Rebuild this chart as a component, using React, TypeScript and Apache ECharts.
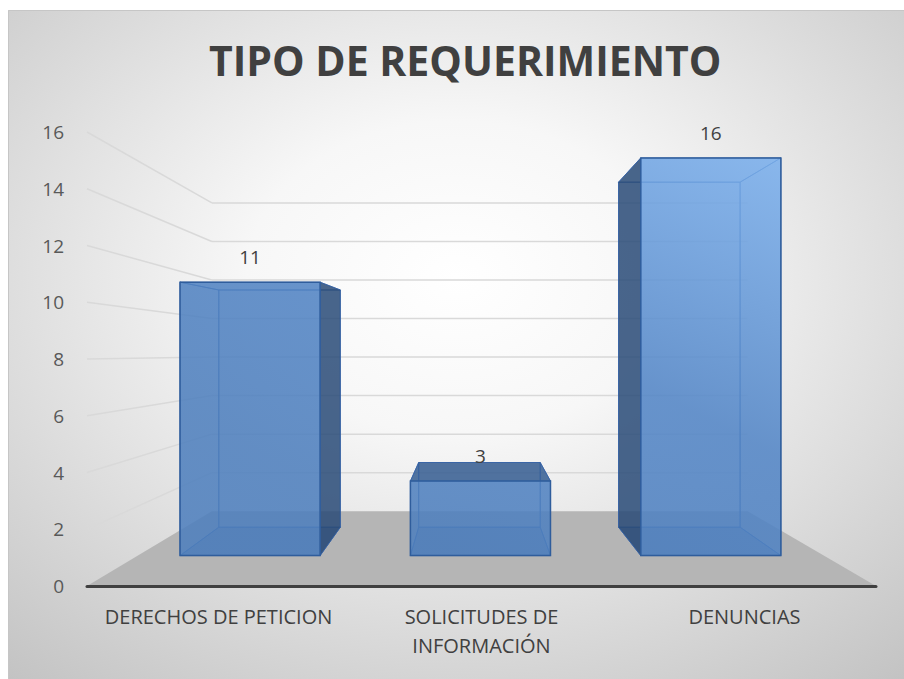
import React, { useEffect, useRef } from "react";
import * as echarts from "echarts";

// ---- data ----
const TITLE = "TIPO DE REQUERIMIENTO";
const categories = ["DERECHOS DE PETICION", "SOLICITUDES DE INFORMACIÓN", "DENUNCIAS"];
const values = [11, 3, 16];
const yTicks = [0, 2, 4, 6, 8, 10, 12, 14, 16];

// ---- 3D look (perspective toward a vanishing point) ----
const FONT = '"Open Sans", "DejaVu Sans", sans-serif';
const WALL = { vx: 468, vy: 343, s: 0.679 };
const BAR = { vx: 465, vy: 331, sFront: 0.876, sBack: 0.76, halfWidth: 0.304 };

function proj(x: number, y: number, vx: number, vy: number, s: number): number[] {
  return [vx + (x - vx) * s, vy + (y - vy) * s];
}

function wrapLabel(s: string): string {
  if (s.length <= 22) return s;
  const w = s.split(" ");
  return w.slice(0, -1).join(" ") + "\n" + w[w.length - 1];
}

export default function App() {
  const ref = useRef<HTMLDivElement>(null);

  useEffect(() => {
    if (!ref.current) return;
    const chart = echarts.init(ref.current, undefined, { renderer: "svg" });

    const frontFill = new echarts.graphic.LinearGradient(
      560, 600, 800, 140,
      [
        { offset: 0, color: "rgba(78,127,189,0.86)" },
        { offset: 0.45, color: "rgba(82,133,198,0.86)" },
        { offset: 1, color: "rgba(126,179,240,0.86)" },
      ],
      true
    );

    const wallSeries = {
      type: "custom",
      z: 1,
      silent: true,
      data: yTicks.map((v) => [0, v]),
      encode: { x: 0, y: 1 },
      renderItem: (params: any, api: any) => {
        const v = api.value(1);
        const cs = params.coordSys;
        const y = api.coord([0, v])[1];
        const fl = [cs.x, y];
        const fr = [cs.x + cs.width, y];
        const bl = proj(fl[0], fl[1], WALL.vx, WALL.vy, WALL.s);
        const br = proj(fr[0], fr[1], WALL.vx, WALL.vy, WALL.s);
        if (v === 0) {
          return {
            type: "polygon",
            shape: { points: [fl, fr, br, bl] },
            style: { fill: "#b5b5b5" },
          };
        }
        return {
          type: "group",
          children: [
            {
              type: "line",
              shape: { x1: fl[0], y1: fl[1], x2: bl[0], y2: bl[1] },
              style: { stroke: "#d9d9d9", lineWidth: 1.5 },
            },
            {
              type: "line",
              shape: { x1: bl[0], y1: bl[1], x2: br[0], y2: br[1] },
              style: { stroke: "#d9d9d9", lineWidth: 1.5 },
            },
          ],
        };
      },
    };

    const barSeries = {
      type: "custom",
      z: 3,
      data: categories.map((_, i) => [i, values[i]]),
      encode: { x: 0, y: 1 },
      renderItem: (params: any, api: any) => {
        const idx = api.value(0);
        const v = api.value(1);
        const top = api.coord([idx, v]);
        const base = api.coord([idx, 0]);
        const band = api.size([1, 0])[0];
        const hw = band * BAR.halfWidth;
        const xl = top[0] - hw;
        const xr = top[0] + hw;
        const yt = top[1];
        const yb = base[1];
        const P = (x: number, y: number, s: number) => proj(x, y, BAR.vx, BAR.vy, s);
        const sF = BAR.sFront;
        const sB = BAR.sBack;
        const F = { lt: P(xl, yt, sF), rt: P(xr, yt, sF), rb: P(xr, yb, sF), lb: P(xl, yb, sF) };
        const B = { lt: P(xl, yt, sB), rt: P(xr, yt, sB), rb: P(xr, yb, sB), lb: P(xl, yb, sB) };
        const edge = "rgba(52,98,165,0.75)";
        const dark = "rgba(40,74,118,0.84)";
        const topVisible = B.lt[1] < F.lt[1];
        const leftVisible = B.lt[0] < F.lt[0];
        const rightVisible = B.rt[0] > F.rt[0];
        const children: any[] = [
          {
            type: "polygon",
            shape: { points: [B.lt, B.rt, B.rb, B.lb] },
            style: { fill: "rgba(68,114,196,0.08)", stroke: edge, lineWidth: 1 },
          },
          {
            type: "polygon",
            shape: { points: [F.lb, F.rb, B.rb, B.lb] },
            style: { fill: "rgba(40,80,140,0.35)", stroke: edge, lineWidth: 1 },
          },
          {
            type: "polygon",
            shape: { points: [F.lt, F.rt, B.rt, B.lt] },
            style: {
              fill: topVisible ? "rgba(56,94,146,0.86)" : "rgba(68,114,196,0.05)",
              stroke: edge,
              lineWidth: 1,
            },
          },
          {
            type: "polygon",
            shape: { points: [F.lt, B.lt, B.lb, F.lb] },
            style: { fill: leftVisible ? dark : "rgba(68,114,196,0.05)", stroke: edge, lineWidth: 1 },
          },
          {
            type: "polygon",
            shape: { points: [F.rt, B.rt, B.rb, F.rb] },
            style: { fill: rightVisible ? dark : "rgba(68,114,196,0.05)", stroke: edge, lineWidth: 1 },
          },
          {
            type: "polygon",
            shape: { points: [F.lt, F.rt, F.rb, F.lb] },
            style: { fill: frontFill, stroke: "#2f5d9c", lineWidth: 1.5 },
          },
          {
            type: "text",
            z2: 20,
            style: {
              text: String(v),
              x: (F.lt[0] + F.rt[0]) / 2,
              y: F.lt[1] - 25,
              align: "center",
              verticalAlign: "middle",
              fontSize: 19,
              fontFamily: FONT,
              fill: "#404040",
            },
          },
        ];
        return { type: "group", children };
      },
    };

    const option: any = {
      animation: false,
      backgroundColor: new echarts.graphic.RadialGradient(0.5, 0.4, 0.78, [
        { offset: 0, color: "#ffffff" },
        { offset: 0.3, color: "#f7f7f7" },
        { offset: 1, color: "#c3c3c3" },
      ]),
      title: {
        text: TITLE,
        left: 196,
        top: 24,
        textStyle: { fontSize: 41, fontWeight: "bold", color: "#404040", fontFamily: FONT },
      },
      grid: { left: 79, right: 28, top: 122, bottom: 93 },
      xAxis: {
        type: "category",
        data: categories,
        z: 10,
        axisLine: { show: true, lineStyle: { color: "#404040", width: 3 } },
        axisTick: { show: false },
        splitLine: { show: false },
        axisLabel: {
          interval: 0,
          fontSize: 20,
          lineHeight: 29,
          margin: 16,
          color: "#404040",
          fontFamily: FONT,
          formatter: wrapLabel,
        },
      },
      yAxis: {
        type: "value",
        min: 0,
        max: 16,
        interval: 2,
        axisLine: { show: false },
        axisTick: { show: false },
        splitLine: { show: false },
        axisLabel: { fontSize: 19, color: "#595959", margin: 23, fontFamily: FONT },
      },
      graphic: [
        {
          type: "polyline",
          silent: true,
          shape: { points: [[0.5, 669], [0.5, 0.5], [896, 0.5]] },
          style: { stroke: "#c6c6c6", lineWidth: 1, fill: "none" },
        },
      ],
      series: [wallSeries, barSeries],
    };

    chart.setOption(option);
    return () => chart.dispose();
  }, []);

  return (
    <div
      style={{
        position: "fixed",
        left: 0,
        top: 0,
        width: 904,
        height: 679,
        overflow: "hidden",
        background: "#ffffff",
      }}
    >
      <div
        ref={ref}
        style={{ position: "absolute", left: 8, top: 10, width: 896, height: 669 }}
      />
    </div>
  );
}
